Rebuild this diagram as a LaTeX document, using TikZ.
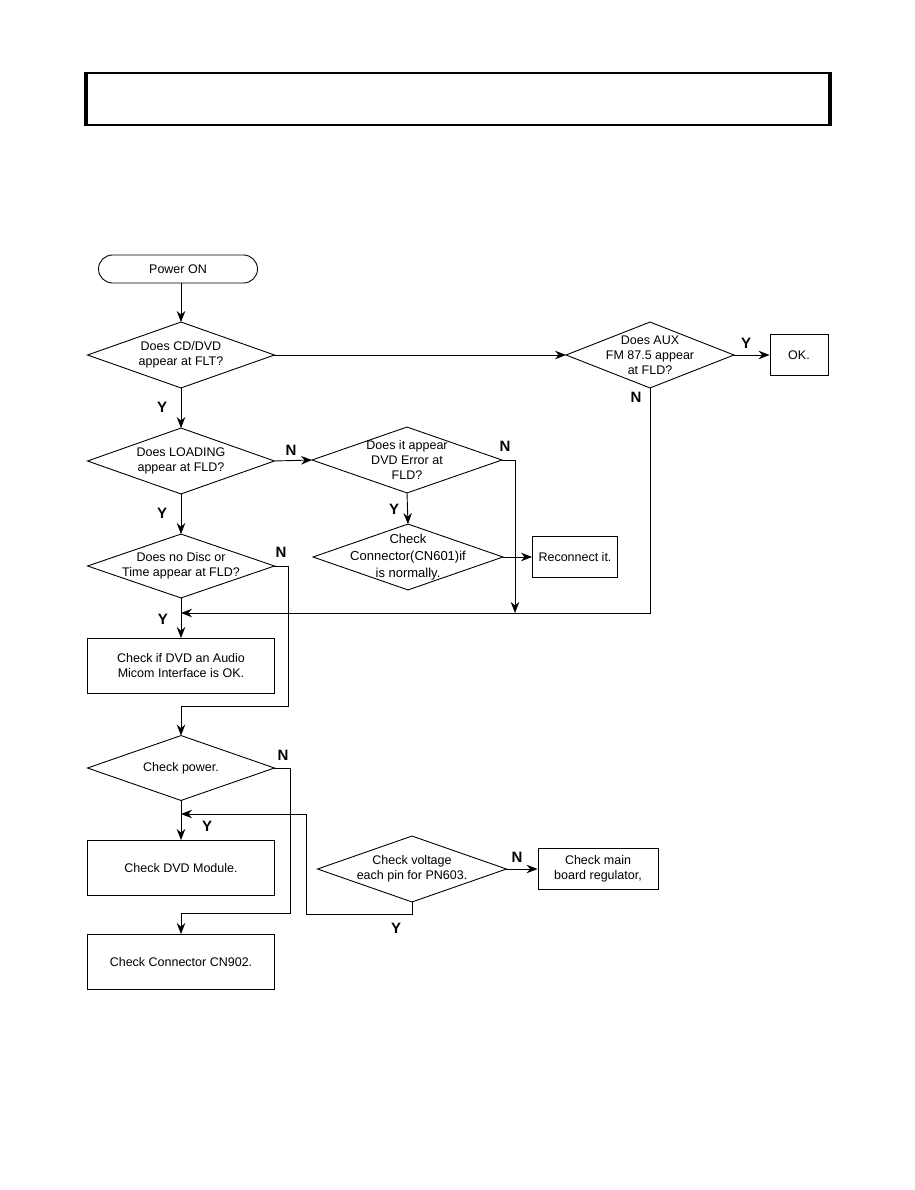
\documentclass[tikz,border=0pt]{standalone}
\usepackage{fontspec}
\setmainfont{Liberation Sans}
\usetikzlibrary{arrows.meta,positioning,calc}

\begin{document}
\begin{tikzpicture}[x=1pt,y=-1pt,>={Stealth[length=11pt,width=8.5pt]},line width=0.9pt,
  txt/.style={font=\fontsize{12.5}{15}\selectfont,align=center},
  box/.style={txt,draw,rectangle,minimum width=187pt,minimum height=55pt},
  sbox/.style={txt,draw,rectangle,minimum height=41pt},
  dia/.style={txt,rectangle,inner sep=0pt,minimum width=186pt,minimum height=65pt},
  yn/.style={font=\fontsize{15}{15}\selectfont\bfseries}]
  \useasboundingbox (0,0) rectangle (914,1190);
  % title bar
  \node[draw,line width=1.1pt,minimum width=742pt,minimum height=52pt](hdr) at (458,99){};
  \draw[line width=4pt] (hdr.north west)--(hdr.south west);
  \draw[line width=4pt] (hdr.north east)--(hdr.south east);
  % start
  \node[txt,draw,rounded corners=14pt,minimum width=159pt,minimum height=28pt](pwr) at (178,269){Power ON};
  % questions
  \node[dia](q1) at (181,355){Does CD/DVD\\appear at FLT?};
  \node[dia,minimum width=167pt](aux) at (650,355){Does AUX\\FM 87.5 appear\\at FLD?};
  \node[dia](q2) at (181,461){Does LOADING\\appear at FLD?};
  \node[dia,minimum width=189pt](q3) at (407,460){Does it appear\\DVD Error at\\FLD?};
  \node[dia,minimum width=189pt,font=\fontsize{13}{17}\selectfont](q4) at (408,557){Check\\Connector(CN601)if\\is normally.};
  \node[dia,minimum height=63pt](q5) at (181,566){Does no Disc or\\Time appear at FLD?};
  \node[dia,minimum height=64pt](q6) at (181,768){Check power.};
  \node[dia,minimum width=188pt](q7) at (412,869){Check voltage\\each pin for PN603.};
  \foreach \q in {q1,aux,q2,q3,q4,q5,q6,q7}
    \draw (\q.north)--(\q.east)--(\q.south)--(\q.west)--cycle;
  % results
  \node[sbox,minimum width=58pt](ok) at (799,355){OK.};
  \node[sbox,minimum width=85pt](recon) at (575,557){Reconnect it.};
  \node[box](chk1) at (181,666){Check if DVD an Audio\\Micom Interface is OK.};
  \node[box](dvdm) at (181,868){Check DVD Module.};
  \node[sbox,minimum width=120pt](mreg) at (598,869){Check main\\board regulator,};
  \node[box](cn902) at (181,962){Check Connector CN902.};
  % junctions
  \coordinate (jn) at (181,613);
  \coordinate (kn) at (515,613);
  \coordinate (n5) at (288,706);
  \coordinate (n6) at (290,913);
  \coordinate (y7) at (306,914);
  \coordinate (jy) at (181,814);
  % main flow
  \draw[->] (q1.north |- pwr.south)--(q1.north);
  \draw[->] (q1.east)--(aux.west);
  \draw[->] (aux.east)--(ok.west);
  \draw[->] (aux.south) |- (jn);
  \draw[->] (q1.south)--(q2.north);
  \draw[->] (q2.east)--(q3.west);
  \draw[->] (q3.east) -| (kn);
  \draw[->] (q3.south)--(q4.north);
  \draw[->] (q4.east)--(recon.west);
  \draw[->] (q2.south)--(q5.north);
  \draw[->] (q5.south)--(chk1.north);
  \draw[->] (q5.east) -| (n5) -| (q6.north);
  \draw[->] (q6.south)--(dvdm.north);
  \draw[->] (q6.east) -| (n6) -| (cn902.north);
  \draw[->] (q7.east)--(mreg.west);
  \draw[->] (q7.south) |- (y7) |- (jy);
  % Y / N labels
  \node[yn](l1) at (162,407){Y};
  \node[yn](l2) at (746,343){Y};
  \node[yn](l3) at (636,397){N};
  \node[yn](l4) at (291,450){N};
  \node[yn](l5) at (162,513){Y};
  \node[yn](l6) at (505,446){N};
  \node[yn](l7) at (394,509){Y};
  \node[yn](l8) at (281,552){N};
  \node[yn](l9) at (163,619){Y};
  \node[yn](l10) at (283,755){N};
  \node[yn](l11) at (207,826){Y};
  \node[yn](l12) at (517,857){N};
  \node[yn](l13) at (396,928){Y};
\end{tikzpicture}
\end{document}
